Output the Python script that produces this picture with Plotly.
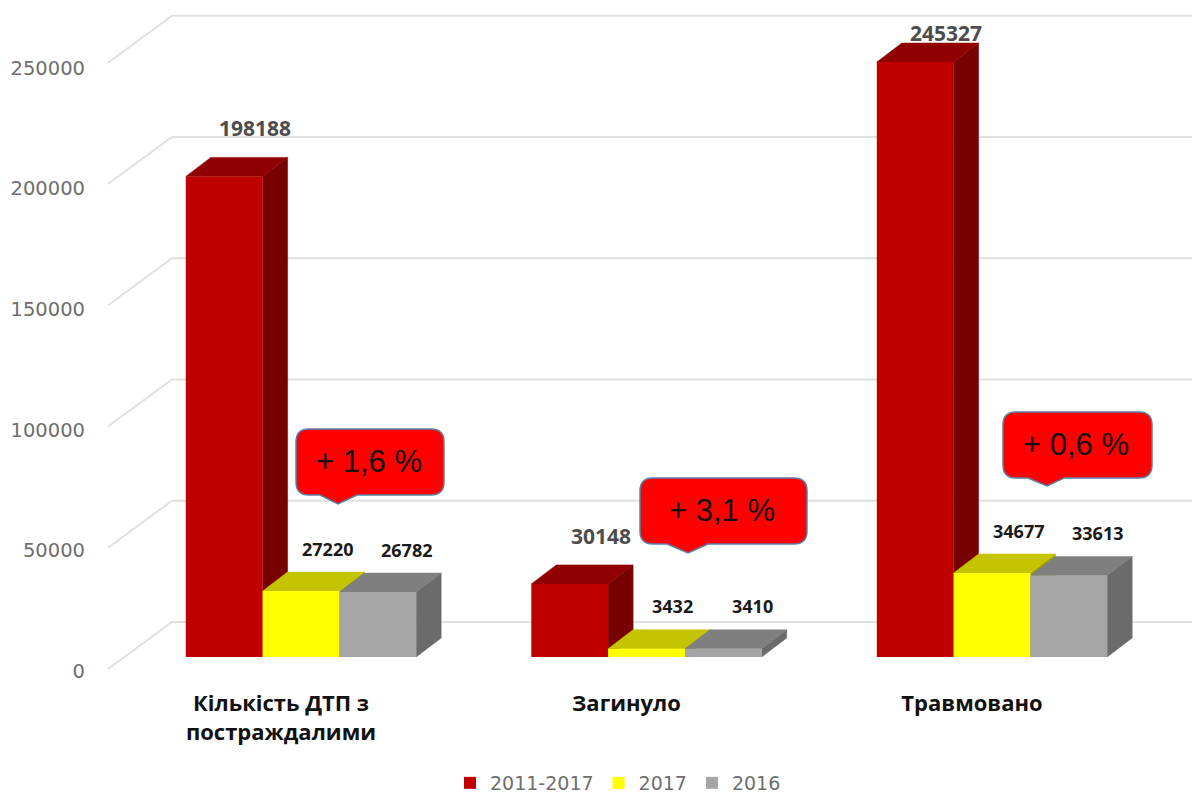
import plotly.graph_objects as go

# ---- data ----
categories = ["Кількість ДТП з<br>постраждалими", "Загинуло", "Травмовано"]
series_names = ["2011-2017", "2017", "2016"]
values_2011_2017 = [198188, 30148, 245327]
values_2017 = [27220, 3432, 34677]
values_2016 = [26782, 3410, 33613]
axis_ticks = [0, 50000, 100000, 150000, 200000, 250000]
callouts = ["+ 1,6 %", "+ 3,1 %", "+ 0,6 %"]

# ---- styles ----
front = ["#C00000", "#FFFF00", "#A5A5A5"]
top_c = ["#900000", "#C4C400", "#7F7F7F"]
side_c = ["#770000", "#A0A000", "#6B6B6B"]
all_series = [values_2011_2017, values_2017, values_2016]

# The page has an 8 px body margin, so the figure is 8 px smaller than the window.
PAGE_W, PAGE_H, BODY = 1200, 796, 8
ML, MB = 86, 111                 # plot-area left edge (page px), bottom margin
PLOT_BOTTOM = PAGE_H - MB
PX_PER_CAT = 345.5
CAT0_PX = 301.0
PX_PER_UNIT = 0.002425
ZERO_PX = 657.0
BAR_W = 76.8 / PX_PER_CAT


def X(px):
    return (px - CAT0_PX) / PX_PER_CAT


def Y(px):
    return (ZERO_PX - px) / PX_PER_UNIT


DX = 25 / PX_PER_CAT          # depth of the bars
DY = 19 / PX_PER_UNIT
WALL_DY = 35 / PX_PER_UNIT    # back wall relative to the bar base
FRONT_DY = -12 / PX_PER_UNIT  # front edge of the floor
TICK_DY = -14 / PX_PER_UNIT   # tick labels sit just below the floor edge
TICK_SCALE = 0.995            # tick labels are slightly tighter than the wall grid

xr = [X(ML), X(PAGE_W)]
yr = [Y(PLOT_BOTTOM), Y(BODY)]

fig = go.Figure()

# back wall grid
gx, gy = [], []
for t in axis_ticks:
    gx += [X(108), X(172), X(PAGE_W), None]
    gy += [t + FRONT_DY, t + WALL_DY, t + WALL_DY, None]
fig.add_trace(go.Scatter(x=gx, y=gy, mode="lines", line=dict(color="#E0E0E0", width=2),
                         hoverinfo="skip", showlegend=False))

# depth faces (side + top) of every bar
for j, vals in enumerate(all_series):
    sx, sy, tx, ty = [], [], [], []
    for i, v in enumerate(vals):
        x0 = i + (j - 1.5) * BAR_W
        x1 = x0 + BAR_W
        sx += [x1, x1 + DX, x1 + DX, x1, x1, None]
        sy += [0, DY, v + DY, v, 0, None]
        tx += [x0, x1, x1 + DX, x0 + DX, x0, None]
        ty += [v, v, v + DY, v + DY, v, None]
    for fx, fy, c in ((sx, sy, side_c[j]), (tx, ty, top_c[j])):
        fig.add_trace(go.Scatter(x=fx, y=fy, mode="lines", fill="toself", fillcolor=c,
                                 line=dict(color=c, width=0.5), hoverinfo="skip", showlegend=False))

# front faces
cat_pos = list(range(len(categories)))
for j, vals in enumerate(all_series):
    fig.add_trace(go.Bar(x=cat_pos, y=vals, name=series_names[j], marker_color=front[j],
                         marker_line_width=0, xaxis="x2", yaxis="y2"))

# data labels
LABEL_FONT = "Open Sans"
shifts = [(31, 48), (26, 42), (29, 42)]
for j, vals in enumerate(all_series):
    for i, v in enumerate(vals):
        sx_, sy_ = shifts[j]
        if v == max(values_2011_2017):
            sy_ = 29
        if v < 5000:
            sy_ += 1
        fig.add_annotation(x=i + (j - 1) * BAR_W, y=v, xref="x2", yref="y2", text=str(v),
                           showarrow=False, xshift=sx_, yshift=sy_,
                           font=dict(family=LABEL_FONT, size=21 if j == 0 else 18,
                                     color="#4D4D4D" if j == 0 else "#1A1A1A", weight="bold"))

# callouts
boxes = [
    (296, 444, 429, 495, 338, 504, 320, 357),
    (640, 807, 478, 544, 688, 553, 667, 708),
    (1003, 1152, 412, 478, 1047, 486, 1028, 1064),
]
R = 13
for (l, r, t, b, tipx, tipy, ta, tb), txt in zip(boxes, callouts):
    path = (f"M {X(l + R)} {Y(t)} L {X(r - R)} {Y(t)} Q {X(r)} {Y(t)} {X(r)} {Y(t + R)} "
            f"L {X(r)} {Y(b - R)} Q {X(r)} {Y(b)} {X(r - R)} {Y(b)} L {X(tb)} {Y(b)} "
            f"L {X(tipx)} {Y(tipy)} L {X(ta)} {Y(b)} L {X(l + R)} {Y(b)} "
            f"Q {X(l)} {Y(b)} {X(l)} {Y(b - R)} L {X(l)} {Y(t + R)} Q {X(l)} {Y(t)} {X(l + R)} {Y(t)} Z")
    fig.add_shape(type="path", path=path, xref="x", yref="y", fillcolor="#FF0000",
                  line=dict(color="#5B80A8", width=1.5), layer="above")
    fig.add_annotation(x=X((l + r) / 2 - 1.5), y=Y((t + b) / 2 - 0.5), xref="x", yref="y", text=txt,
                       showarrow=False, font=dict(family="Liberation Sans", size=31, color="#111111"))

fig.update_layout(
    width=PAGE_W - BODY, height=PAGE_H - BODY, autosize=False,
    margin=dict(l=ML - BODY, r=0, t=0, b=MB, pad=0),
    paper_bgcolor="white", plot_bgcolor="white",
    barmode="group", bargap=1 - 3 * BAR_W, bargroupgap=0,
    legend=dict(orientation="h", x=(618 - BODY) / (PAGE_W - BODY), xref="container", xanchor="center",
                y=13 / (PAGE_H - BODY), yref="container", yanchor="middle",
                font=dict(family="DejaVu Sans", size=19, color="#6E6E6E"),
                itemclick=False, itemdoubleclick=False, itemwidth=30),
    xaxis=dict(range=xr, showgrid=False, zeroline=False, showline=False, ticks="",
               tickmode="array", tickvals=[c - 20 / PX_PER_CAT for c in cat_pos], ticktext=categories,
               tickfont=dict(family="Open Sans", size=22, color="#111111", weight="bold"),
               tickangle=0, ticklabelstandoff=3),
    yaxis=dict(range=yr, showgrid=False, zeroline=False, showline=False, ticks="",
               tickmode="array", tickvals=[t * TICK_SCALE + TICK_DY for t in axis_ticks],
               ticktext=[str(t) for t in axis_ticks],
               tickfont=dict(family="DejaVu Sans", size=19.5, color="#6E6E6E")),
    xaxis2=dict(range=xr, overlaying="x", visible=False),
    yaxis2=dict(range=yr, overlaying="y", visible=False),
)

fig.write_html("out.html")
